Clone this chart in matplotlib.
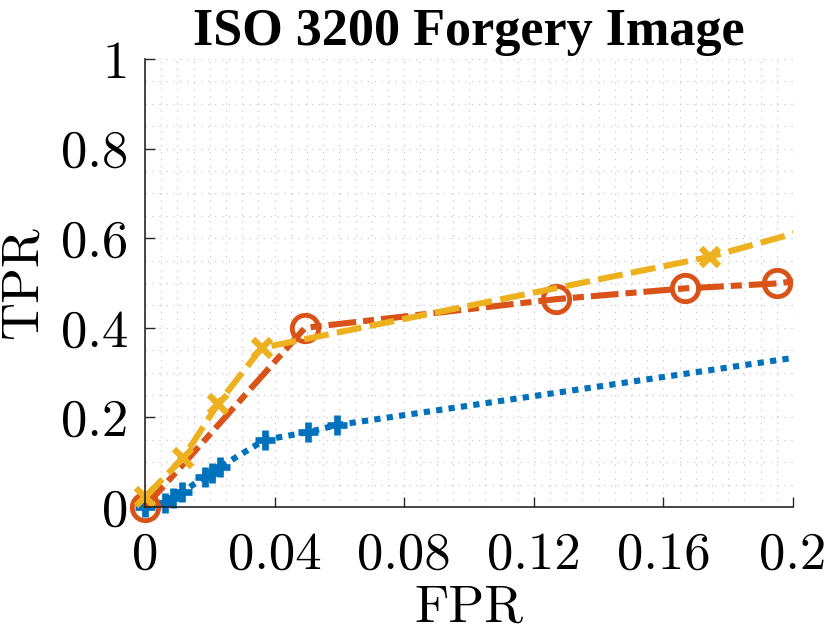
import matplotlib
matplotlib.use('Agg')
import matplotlib.pyplot as plt
import numpy as np
from matplotlib.ticker import MultipleLocator

# valori
fpr_blue = [0, 0.0062, 0.0086, 0.0114, 0.0185, 0.0207, 0.0231, 0.037, 0.0503, 0.0593, 0.25]
tpr_blue = [0, 0.009, 0.020, 0.033, 0.067, 0.076, 0.089, 0.150, 0.167, 0.183, 0.386]

fpr_orange = [0, 0.0494, 0.127, 0.1667, 0.195, 0.23]
tpr_orange = [0, 0.400, 0.464, 0.488, 0.499, 0.53]

fpr_yellow = [0, 0.0117, 0.0226, 0.036, 0.1744, 0.22]
tpr_yellow = [0.022, 0.109, 0.231, 0.355, 0.5587, 0.65]

xticks = [0, 0.04, 0.08, 0.12, 0.16, 0.2]
xtick_labels = ['0', '0.04', '0.08', '0.12', '0.16', '0.2']
yticks = [0, 0.2, 0.4, 0.6, 0.8, 1]
ytick_labels = ['0', '0.2', '0.4', '0.6', '0.8', '1']

col_blue = '#0072BD'
col_orange = '#D95319'
col_yellow = '#EDB120'

plt.rcParams['lines.scale_dashes'] = False

fig = plt.figure(figsize=(8.3, 6.35), dpi=100)
ax = fig.add_axes([0.1747, 0.2016, 0.7807, 0.7054])

XMAX = 0.2
lw = 4.4
series = [
    (fpr_blue, tpr_blue, col_blue, (4.5, 4.5), '+', 15, 4.8),
    (fpr_orange, tpr_orange, col_orange, (20, 5, 8, 5), 'o', 19, 3.5),
    (fpr_yellow, tpr_yellow, col_yellow, (18, 6), 'x', 13, 4.6),
]
for xs, ys, c, dash, mk, ms, mew in series:
    # linea tagliata sull'asse, marcatori non tagliati
    ax.plot(xs, ys, color=c, lw=lw, dashes=dash, dash_capstyle='butt')
    mx = [x for x in xs if x <= XMAX]
    my = [y for x, y in zip(xs, ys) if x <= XMAX]
    kw = dict(markerfacecolor='none') if mk == 'o' else {}
    ax.plot(mx, my, linestyle='none', color=c, marker=mk, markersize=ms,
            markeredgewidth=mew, clip_on=False, **kw)

ax.set_xlim(0, XMAX)
ax.set_ylim(0, 1)

ax.xaxis.set_minor_locator(MultipleLocator(0.005))
ax.yaxis.set_minor_locator(MultipleLocator(0.05))
ax.grid(which='both', color='#cfcfcf', linestyle=(0, (1, 4)), linewidth=0.9)
ax.set_axisbelow(True)

ax.set_xticks(xticks)
ax.set_xticklabels(xtick_labels, fontfamily='cmr10', fontsize=38)
ax.set_yticks(yticks)
ax.set_yticklabels(ytick_labels, fontfamily='cmr10', fontsize=38)
ax.tick_params(which='major', direction='in', length=7, width=1, color='#262626')
ax.tick_params(which='minor', length=0)
ax.tick_params(axis='x', pad=18)
ax.tick_params(axis='y', pad=12)

for s in ['top', 'right']:
    ax.spines[s].set_visible(False)
for s in ['left', 'bottom']:
    ax.spines[s].set_color('#262626')
    ax.spines[s].set_linewidth(1.2)

ax.set_xlabel('FPR', fontfamily='cmr10', fontsize=38, labelpad=4)
ax.set_ylabel('TPR', fontfamily='cmr10', fontsize=38, va='center')
ax.yaxis.set_label_coords(-0.188, 0.5)
ax.set_title('ISO 3200 Forgery Image', fontfamily='Liberation Serif', fontweight='bold',
             fontsize=37.5, pad=10)

fig.savefig('out.png', dpi=100)
